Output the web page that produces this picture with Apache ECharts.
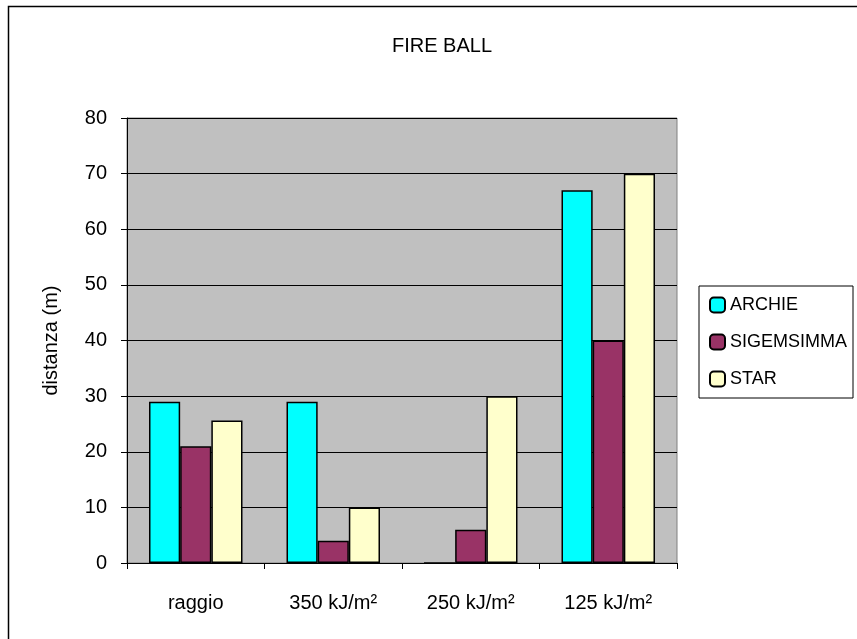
<!DOCTYPE html>
<html>
<head>
<meta charset="utf-8">
<script src="https://cdn.jsdelivr.net/npm/echarts@6/dist/echarts.min.js"></script>
<style>
  html, body { margin: 0; padding: 0; background: #fff; }
  #chart { width: 857px; height: 639px; }
</style>
</head>
<body>
<div id="chart"></div>
<script>
// ---- 数据 ----
const categories = ["raggio", "350 kJ/m²", "250 kJ/m²", "125 kJ/m²"];
const archie = [29, 29, 0, 67];
const sigemsimma = [21, 4, 6, 40];
const star = [25.6, 10, 30, 70];
const yTicks = [0, 10, 20, 30, 40, 50, 60, 70, 80];

const font = "Liberation Sans, Arial, sans-serif";

function barSeries(name, data, color) {
  return {
    name, type: "bar", data,
    barGap: "0%",
    barCategoryGap: "32%",
    itemStyle: { color, borderColor: "#000", borderWidth: 1.5 },
  };
}

const chart = echarts.init(document.getElementById("chart"), null, { renderer: "canvas" });
chart.setOption({
  animation: false,
  textStyle: { fontFamily: font },
  title: {
    text: "FIRE BALL", left: 437, top: 31, textAlign: "center",
    textStyle: { fontFamily: font, fontSize: 20, fontWeight: "normal", color: "#000" },
  },
  graphic: [
    // 外框（右、下边超出画面）
    { type: "rect", shape: { x: 8.5, y: 6.5, width: 900, height: 700 },
      style: { fill: null, stroke: "#000", lineWidth: 1.5 }, silent: true },
  ],
  grid: {
    left: 127, right: 180, top: 118, bottom: 76,
    show: true, backgroundColor: "#c0c0c0", borderColor: "#808080", borderWidth: 1,
  },
  legend: {
    orient: "vertical", left: 699, top: 286,
    padding: [10, 6, 10, 10], itemGap: 19,
    itemWidth: 15, itemHeight: 15,
    borderColor: "#000", borderWidth: 1,
    textStyle: { fontFamily: font, fontSize: 18, color: "#000" },
    data: ["ARCHIE", "SIGEMSIMMA", "STAR"],
  },
  xAxis: {
    type: "category", data: categories,
    axisLine: { lineStyle: { color: "#000", width: 1 } },
    axisTick: { show: true, length: 6, lineStyle: { color: "#000" } },
    axisLabel: { color: "#000", fontSize: 20, margin: 30, fontFamily: font },
  },
  yAxis: {
    type: "value", min: yTicks[0], max: yTicks[yTicks.length - 1], interval: 10,
    name: "distanza (m)", nameLocation: "middle", nameGap: 66,
    nameTextStyle: { color: "#000", fontSize: 20, fontFamily: font },
    axisLine: { show: true, lineStyle: { color: "#000" } },
    axisTick: { show: true, length: 6, lineStyle: { color: "#000" } },
    axisLabel: { color: "#000", fontSize: 20, margin: 20, fontFamily: font },
    splitLine: { lineStyle: { color: "#000", width: 1 } },
  },
  series: [
    barSeries("ARCHIE", archie, "#00ffff"),
    barSeries("SIGEMSIMMA", sigemsimma, "#993366"),
    barSeries("STAR", star, "#ffffcc"),
  ],
});
</script>
</body>
</html>
